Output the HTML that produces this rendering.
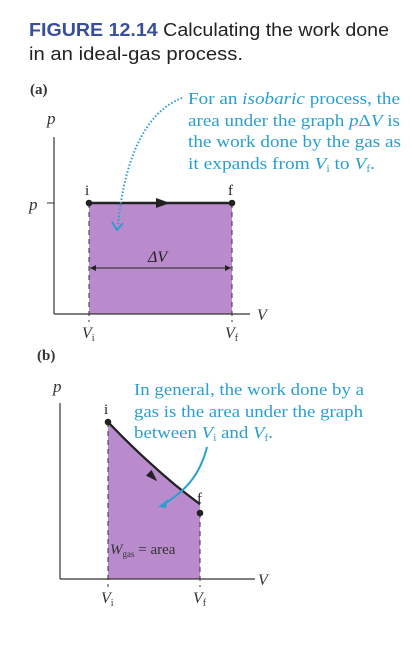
<!DOCTYPE html>
<html><head><meta charset="utf-8"><style>
body{margin:0;background:#fff;width:413px;height:665px;overflow:hidden}
svg{display:block}
.s{font-family:"Liberation Serif",serif}
.b{fill:#2a9fcf}
</style></head><body>
<svg width="413" height="665">
<text x="29" y="36" font-family="Liberation Sans,sans-serif" font-size="18.5" textLength="360" lengthAdjust="spacingAndGlyphs"><tspan font-weight="bold" fill="#3a4f9c">FIGURE 12.14</tspan><tspan fill="#222"> Calculating the work done</tspan></text>
<text x="29" y="60" font-family="Liberation Sans,sans-serif" font-size="18.5" fill="#222" textLength="214" lengthAdjust="spacingAndGlyphs">in an ideal-gas process.</text>

<!-- panel a -->
<g>
<text class="s" x="30" y="94" font-size="15" font-weight="bold" fill="#333">(a)</text>
<rect id="ra" fill="#b98bcc"/>
<line x1="54" y1="137" x2="54" y2="314" stroke="#333" stroke-width="1.2"/>
<line x1="54" y1="314" x2="250" y2="314" stroke="#333" stroke-width="1.2"/>
<line x1="47" y1="203" x2="54" y2="203" stroke="#333"/>
<line x1="89" y1="203" x2="89" y2="322" stroke="#333" stroke-dasharray="5,4"/>
<line x1="232" y1="203" x2="232" y2="322" stroke="#333" stroke-dasharray="5,4"/>
<line x1="89" y1="203" x2="232" y2="203" stroke="#222" stroke-width="2.5"/>
<path d="M156,198 L170,203 L156,208 Z" fill="#222"/>
<circle cx="89" cy="203" r="3.3" fill="#222"/>
<circle cx="232" cy="203" r="3.3" fill="#222"/>
<line x1="90" y1="268" x2="231" y2="268" stroke="#222"/>
<path d="M90,268 l6,-3 v6z M231,268 l-6,-3 v6z" fill="#222"/>
<text class="s" x="148" y="262" font-size="16" font-style="italic" fill="#222">ΔV</text>
<text class="s" x="47" y="124" font-size="17" font-style="italic" fill="#333">p</text>
<text class="s" x="29" y="210" font-size="17" font-style="italic" fill="#333">p</text>
<text class="s" x="85" y="195" font-size="15" fill="#222">i</text>
<text class="s" x="228" y="195" font-size="15" fill="#222">f</text>
<text class="s" x="257" y="320" font-size="16" font-style="italic" fill="#333">V</text>
<text class="s" x="82" y="338" font-size="16" font-style="italic" fill="#333">V<tspan font-size="10" font-style="normal" dy="3">i</tspan></text>
<text class="s" x="225" y="338" font-size="16" font-style="italic" fill="#333">V<tspan font-size="10" font-style="normal" dy="3">f</tspan></text>
<path d="M182,98 C150,110 125,150 118,226" fill="none" stroke="#2a9fcf" stroke-width="2" stroke-dasharray="1.5,2"/>
<path d="M112,222 L117,230 L123,223" fill="none" stroke="#2a9fcf" stroke-width="2"/>
<g class="s b" font-size="17">
<text x="188" y="104" textLength="212" lengthAdjust="spacingAndGlyphs">For an <tspan font-style="italic">isobaric</tspan> process, the</text>
<text x="188" y="126" textLength="212" lengthAdjust="spacingAndGlyphs">area under the graph <tspan font-style="italic">p</tspan>Δ<tspan font-style="italic">V</tspan> is</text>
<text x="188" y="147" textLength="213" lengthAdjust="spacingAndGlyphs">the work done by the gas as</text>
<text x="188" y="169" textLength="187" lengthAdjust="spacingAndGlyphs">it expands from <tspan font-style="italic">V</tspan><tspan font-size="10" dy="3">i</tspan><tspan dy="-3"> to </tspan><tspan font-style="italic">V</tspan><tspan font-size="10" dy="3">f</tspan><tspan dy="-3">.</tspan></text>
</g>
</g>

<!-- panel b -->
<g>
<text class="s" x="37" y="360" font-size="15" font-weight="bold" fill="#333">(b)</text>
<path id="area-b" fill="#b98bcc"/>
<line x1="60" y1="403" x2="60" y2="579" stroke="#333" stroke-width="1.2"/>
<line x1="60" y1="579" x2="255" y2="579" stroke="#333" stroke-width="1.2"/>
<line x1="108" y1="422" x2="108" y2="587" stroke="#333" stroke-dasharray="5,4"/>
<line x1="200" y1="513" x2="200" y2="587" stroke="#333" stroke-dasharray="5,4"/>
<path id="curve-b" fill="none" stroke="#222" stroke-width="2.3"/>
<path d="M-6,-4 L6,0 L-6,4 Z" transform="translate(153,477) rotate(45)" fill="#222"/>
<circle cx="108" cy="422" r="3.3" fill="#222"/>
<circle cx="200" cy="513" r="3.3" fill="#222"/>
<text class="s" x="53" y="392" font-size="17" font-style="italic" fill="#333">p</text>
<text class="s" x="104" y="414" font-size="15" fill="#222">i</text>
<text class="s" x="197" y="503" font-size="15" fill="#222">f</text>
<text class="s" x="110" y="554" font-size="15" fill="#333"><tspan font-style="italic">W</tspan><tspan font-size="9" dy="3">gas</tspan><tspan dy="-3"> = area</tspan></text>
<text class="s" x="258" y="585" font-size="16" font-style="italic" fill="#333">V</text>
<text class="s" x="101" y="603" font-size="16" font-style="italic" fill="#333">V<tspan font-size="10" font-style="normal" dy="3">i</tspan></text>
<text class="s" x="193" y="603" font-size="16" font-style="italic" fill="#333">V<tspan font-size="10" font-style="normal" dy="3">f</tspan></text>
<path d="M207,447 C200,475 185,492 162,505" fill="none" stroke="#2a9fcf" stroke-width="2"/>
<path d="M158,507 L168,499 L166,508 Z" fill="#2a9fcf"/>
<g class="s b" font-size="17">
<text x="134" y="395" textLength="230" lengthAdjust="spacingAndGlyphs">In general, the work done by a</text>
<text x="134" y="417" textLength="229" lengthAdjust="spacingAndGlyphs">gas is the area under the graph</text>
<text x="134" y="438" textLength="139" lengthAdjust="spacingAndGlyphs">between <tspan font-style="italic">V</tspan><tspan font-size="10" dy="3">i</tspan><tspan dy="-3"> and </tspan><tspan font-style="italic">V</tspan><tspan font-size="10" dy="3">f</tspan><tspan dy="-3">.</tspan></text>
</g>
</g>
</svg>
<script>
// panel a data (arbitrary units)
const aVolumes=[1,3];
const aPressure=[2.2];
// panel b data
const bVolumes=[1.0,1.24,1.46,1.73,2.0];
const bPressure=[3.0,2.57,2.21,1.79,1.43];
// axis functions
const axA={x:v=>89+(v-1)*71.5,y:p=>314-p*50.45};
const axB={x:v=>108+(v-1)*92,y:p=>579-p*52.33};
const r=document.getElementById('ra');
r.setAttribute('x',axA.x(aVolumes[0]));
r.setAttribute('y',axA.y(aPressure[0]));
r.setAttribute('width',axA.x(aVolumes[1])-axA.x(aVolumes[0]));
r.setAttribute('height',axA.y(0)-axA.y(aPressure[0]));
const pts=bVolumes.map((v,i)=>[axB.x(v),axB.y(bPressure[i])]);
let d='M'+pts[0][0]+','+pts[0][1];
for(let i=1;i<pts.length;i++){const p0=pts[i-1],p1=pts[i];const mx=(p0[0]+p1[0])/2,my=(p0[1]+p1[1])/2;d+=' Q'+p0[0]+','+p0[1]+' '+mx+','+my;}
d+=' L'+pts[pts.length-1][0]+','+pts[pts.length-1][1];
document.getElementById('curve-b').setAttribute('d',d);
const y0=axB.y(0);
document.getElementById('area-b').setAttribute('d',d+' L'+pts[pts.length-1][0]+','+y0+' L'+pts[0][0]+','+y0+' Z');
</script>
</body></html>
